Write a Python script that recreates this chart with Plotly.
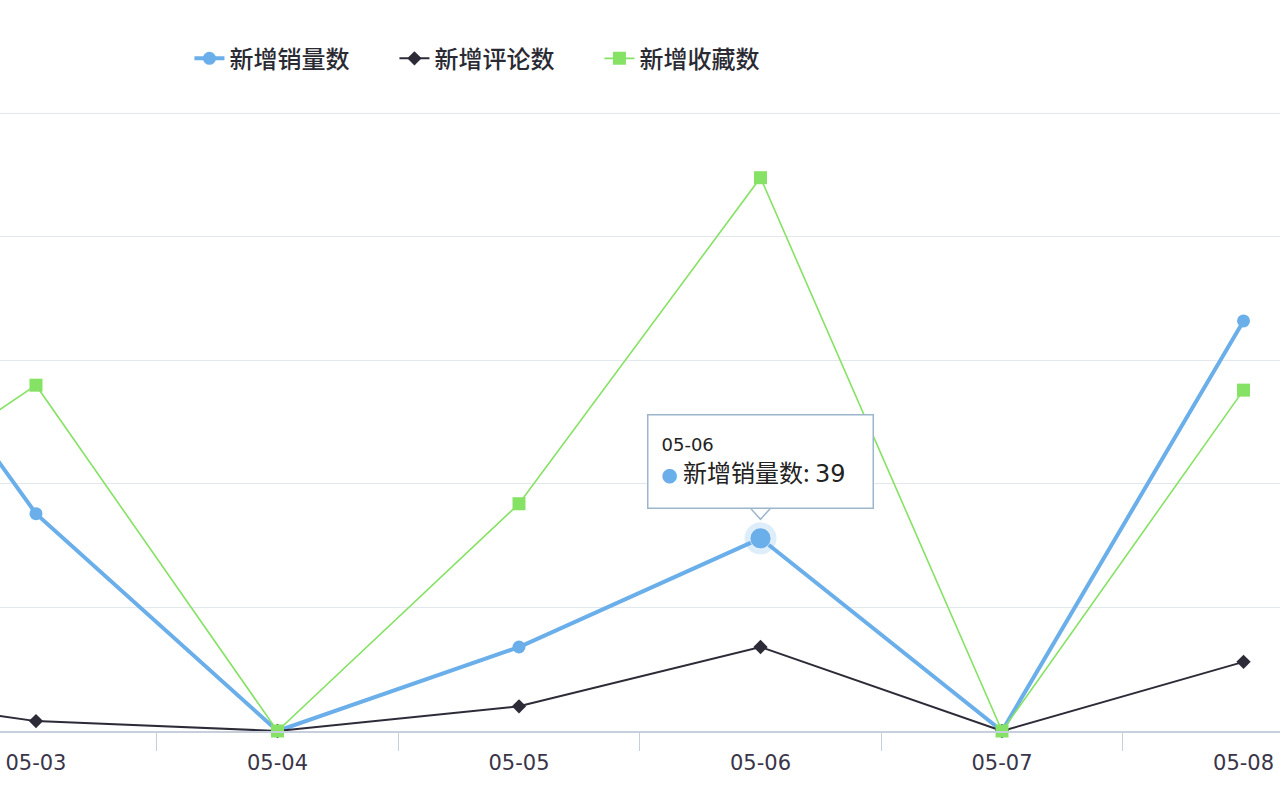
import plotly.graph_objects as go

# 05-02 sits just off the left edge of the visible window
dates = ["05-02", "05-03", "05-04", "05-05", "05-06", "05-07", "05-08"]
sales = [112, 44, 0, 17, 39, 0, 83]
comments = [9, 2, 0, 5, 17, 0, 14]
favorites = [37, 70, 0, 46, 112, 0, 69]

y_ticks = [0, 25, 50, 75, 100, 125]
hl = 4  # highlighted category (tooltip)

_FONT = dict(family="Noto Sans CJK SC, sans-serif", size=19, color="#333333")
_TICKFONT = "DejaVu Sans, Noto Sans CJK SC, sans-serif"
BLUE = "#6aaeea"
DARK = "#2e2b38"
GREEN = "#86e264"
BORDER = "#9cb6cc"

fig = go.Figure()
fig.add_trace(go.Scatter(
    x=dates, y=sales, name="新增销量数", mode="lines+markers",
    line=dict(color=BLUE, width=4),
    marker=dict(symbol="circle", size=13, color=BLUE),
    cliponaxis=False,
))
fig.add_trace(go.Scatter(
    x=dates, y=comments, name="新增评论数", mode="lines+markers",
    line=dict(color=DARK, width=2),
    marker=dict(symbol="diamond", size=11, color=DARK),
    cliponaxis=False,
))
fig.add_trace(go.Scatter(
    x=dates, y=favorites, name="新增收藏数", mode="lines+markers",
    line=dict(color=GREEN, width=1.6),
    marker=dict(symbol="square", size=13, color=GREEN),
    cliponaxis=False,
))
# hover halo on the highlighted point
fig.add_trace(go.Scatter(
    x=[dates[hl]], y=[sales[hl]], mode="markers", showlegend=False,
    marker=dict(size=32, color="rgba(106,174,234,0.22)"),
    cliponaxis=False,
))
fig.add_trace(go.Scatter(
    x=[dates[hl]], y=[sales[hl]], mode="markers", showlegend=False,
    marker=dict(size=21, color=BLUE, line=dict(color="rgba(255,255,255,0.6)", width=1)),
    cliponaxis=False,
))

# tooltip pointer
fig.add_shape(
    type="path", xref="x", yref="y",
    xsizemode="pixel", ysizemode="pixel",
    xanchor=dates[hl], yanchor=sales[hl],
    path="M -10,30 L 0,19 L 10,30 Z",
    fillcolor="white", line=dict(color=BORDER, width=1.5),
    layer="above",
)
fig.add_annotation(
    x=dates[hl], y=sales[hl], xref="x", yref="y",
    text=(f"<span style='font-family:{_TICKFONT};font-size:18px'>{dates[hl]}</span><br>"
          f"<span style='color:{BLUE};font-size:16px'>●</span> 新增销量数: "
          f"<span style='font-family:{_TICKFONT}'>{sales[hl]}</span>"),
    showarrow=False, align="left", valign="middle", yanchor="bottom", yshift=29,
    width=198, height=66,
    font=dict(family="Noto Sans CJK SC, sans-serif", size=24, color="#222222"),
    bgcolor="white", bordercolor=BORDER, borderwidth=1.5,
    borderpad=13,
)

fig.update_layout(
    width=1280, height=800,
    margin=dict(l=0, r=0, t=112, b=69),
    plot_bgcolor="white", paper_bgcolor="white",
    font=_FONT,
    showlegend=True,
    legend=dict(
        orientation="h", x=0.148, y=1.086, xanchor="left", yanchor="middle",
        font=dict(size=24, color="#2a2a33", weight=500),
        entrywidth=160, itemwidth=30,
    ),
    xaxis=dict(
        type="category", range=[0.851, 6.151],
        showgrid=False, showline=True, linecolor="#c6d0dc", linewidth=1.5,
        ticks="outside", tickson="boundaries", ticklen=18, tickcolor="#c6d0dc",
        tickfont=dict(family=_TICKFONT, size=21, color="#3a3548"), ticklabelstandoff=12,
        zeroline=False,
    ),
    yaxis=dict(
        range=[0, 125.3], tickvals=y_ticks, showticklabels=False,
        gridcolor="#e3e8ef", gridwidth=1, zeroline=False,
    ),
)

fig.write_html(
    "out.html",
    config={"displayModeBar": False},
    post_script="document.body.style.margin='0';",
)
